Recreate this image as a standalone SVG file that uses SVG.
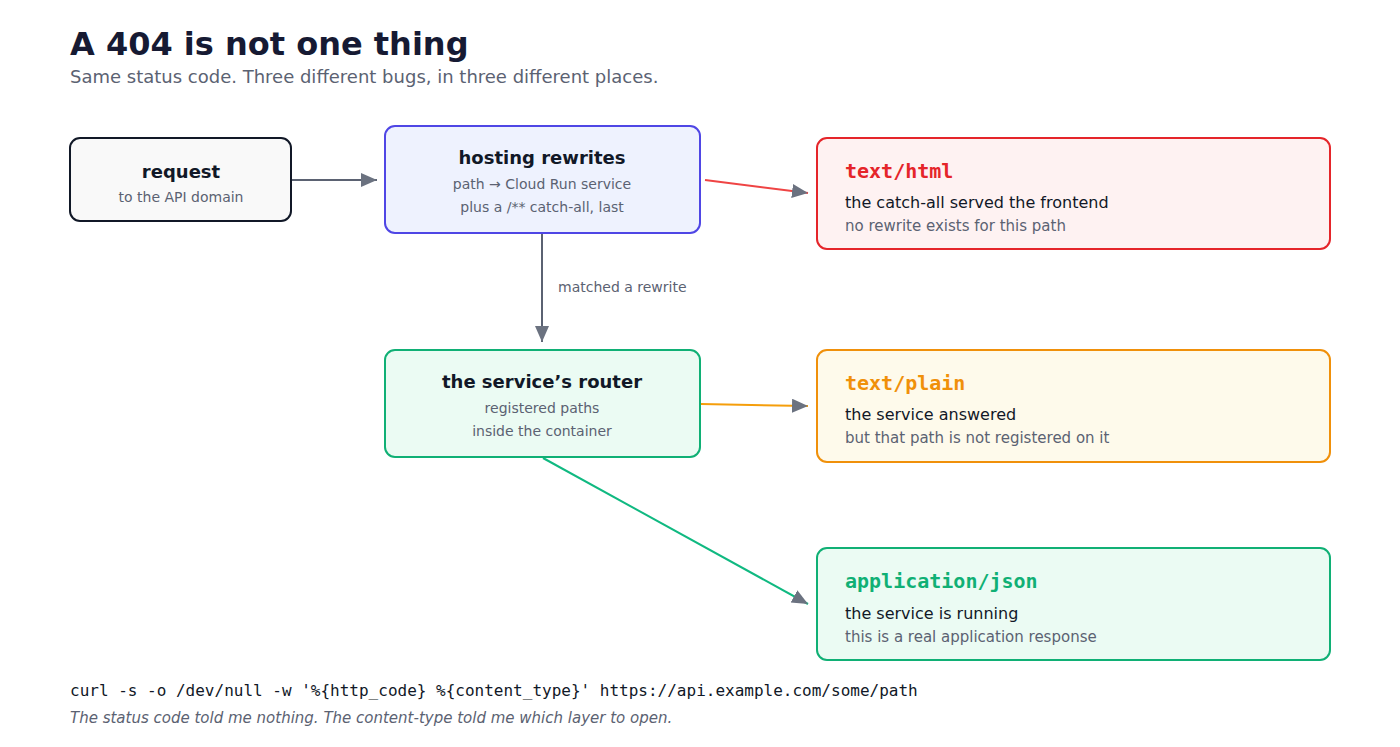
<svg xmlns="http://www.w3.org/2000/svg" width="1400" height="747" viewBox="0 0 1400 747">
<style>
text{font-family:"DejaVu Sans",sans-serif}
.mono{font-family:"DejaVu Sans Mono",monospace}
.t{font-size:18px;font-weight:bold;fill:#111827;text-anchor:middle}
.s{font-size:14px;fill:#5b6272;text-anchor:middle}
.m{font-size:20px;font-weight:bold}
.b{font-size:16px;fill:#111827}
.g{font-size:15px;fill:#5b6272}
.box{stroke-width:2}
.c{fill:none;stroke-width:2}
</style>
<defs>
<marker id="ah" markerUnits="userSpaceOnUse" markerWidth="18" markerHeight="16" refX="16" refY="7" orient="auto">
<path d="M0,0 L16,7 L0,14 Z" fill="#6b7280"/>
</marker>
</defs>
<rect width="1400" height="747" fill="#fff"/>
<text x="70" y="55" font-size="32" font-weight="bold" fill="#161a33">A 404 is not one thing</text>
<text x="70" y="83" font-size="18" fill="#5b6272">Same status code. Three different bugs, in three different places.</text>

<g id="connectors">
<line class="c" x1="292" y1="180" x2="377" y2="180" stroke="#5b6272" marker-end="url(#ah)"/>
<line class="c" x1="705" y1="180" x2="808" y2="193" stroke="#ef4444" marker-end="url(#ah)"/>
<line class="c" x1="542" y1="234" x2="542" y2="342" stroke="#5b6272" marker-end="url(#ah)"/>
<text x="558" y="292" font-size="14" fill="#5b6272">matched a rewrite</text>
<line class="c" x1="701" y1="404" x2="808" y2="406" stroke="#f59e0b" marker-end="url(#ah)"/>
<line class="c" x1="543" y1="458" x2="808" y2="604" stroke="#10b981" marker-end="url(#ah)"/>
</g>

<g id="request">
<rect class="box" x="70" y="138" width="221" height="83" rx="10" fill="#f9f9f9" stroke="#111827"/>
<text class="t" x="181" y="178">request</text>
<text class="s" x="181" y="202">to the API domain</text>
</g>
<g id="hosting">
<rect class="box" x="385" y="126" width="315" height="107" rx="10" fill="#eef2fe" stroke="#4f46e5"/>
<text class="t" x="542" y="164">hosting rewrites</text>
<text class="s" x="542" y="189">path → Cloud Run service</text>
<text class="s" x="542" y="212">plus a /** catch-all, last</text>
</g>
<g id="router">
<rect class="box" x="385" y="350" width="315" height="107" rx="10" fill="#ebfbf3" stroke="#10b075"/>
<text class="t" x="542" y="388">the service’s router</text>
<text class="s" x="542" y="413">registered paths</text>
<text class="s" x="542" y="436">inside the container</text>
</g>
<g id="html">
<rect class="box" x="817" y="138" width="513" height="111" rx="10" fill="#fef2f2" stroke="#e5252a"/>
<text class="mono m" x="845" y="178" fill="#e5252a">text/html</text>
<text class="b" x="845" y="208">the catch-all served the frontend</text>
<text class="g" x="845" y="231">no rewrite exists for this path</text>
</g>
<g id="plain">
<rect class="box" x="817" y="350" width="513" height="112" rx="10" fill="#fefaeb" stroke="#f0900a"/>
<text class="mono m" x="845" y="390" fill="#f0900a">text/plain</text>
<text class="b" x="845" y="420">the service answered</text>
<text class="g" x="845" y="443">but that path is not registered on it</text>
</g>
<g id="json">
<rect class="box" x="817" y="548" width="513" height="112" rx="10" fill="#ebfbf3" stroke="#10b075"/>
<text class="mono m" x="845" y="588" fill="#10b075">application/json</text>
<text class="b" x="845" y="619">the service is running</text>
<text class="g" x="845" y="642">this is a real application response</text>
</g>
<text class="mono" x="70" y="696" font-size="16" fill="#111827">curl -s -o /dev/null -w '%{http_code} %{content_type}' https://api.example.com/some/path</text>
<text x="70" y="723" font-size="15" font-style="italic" fill="#5b6272">The status code told me nothing. The content-type told me which layer to open.</text>
</svg>
